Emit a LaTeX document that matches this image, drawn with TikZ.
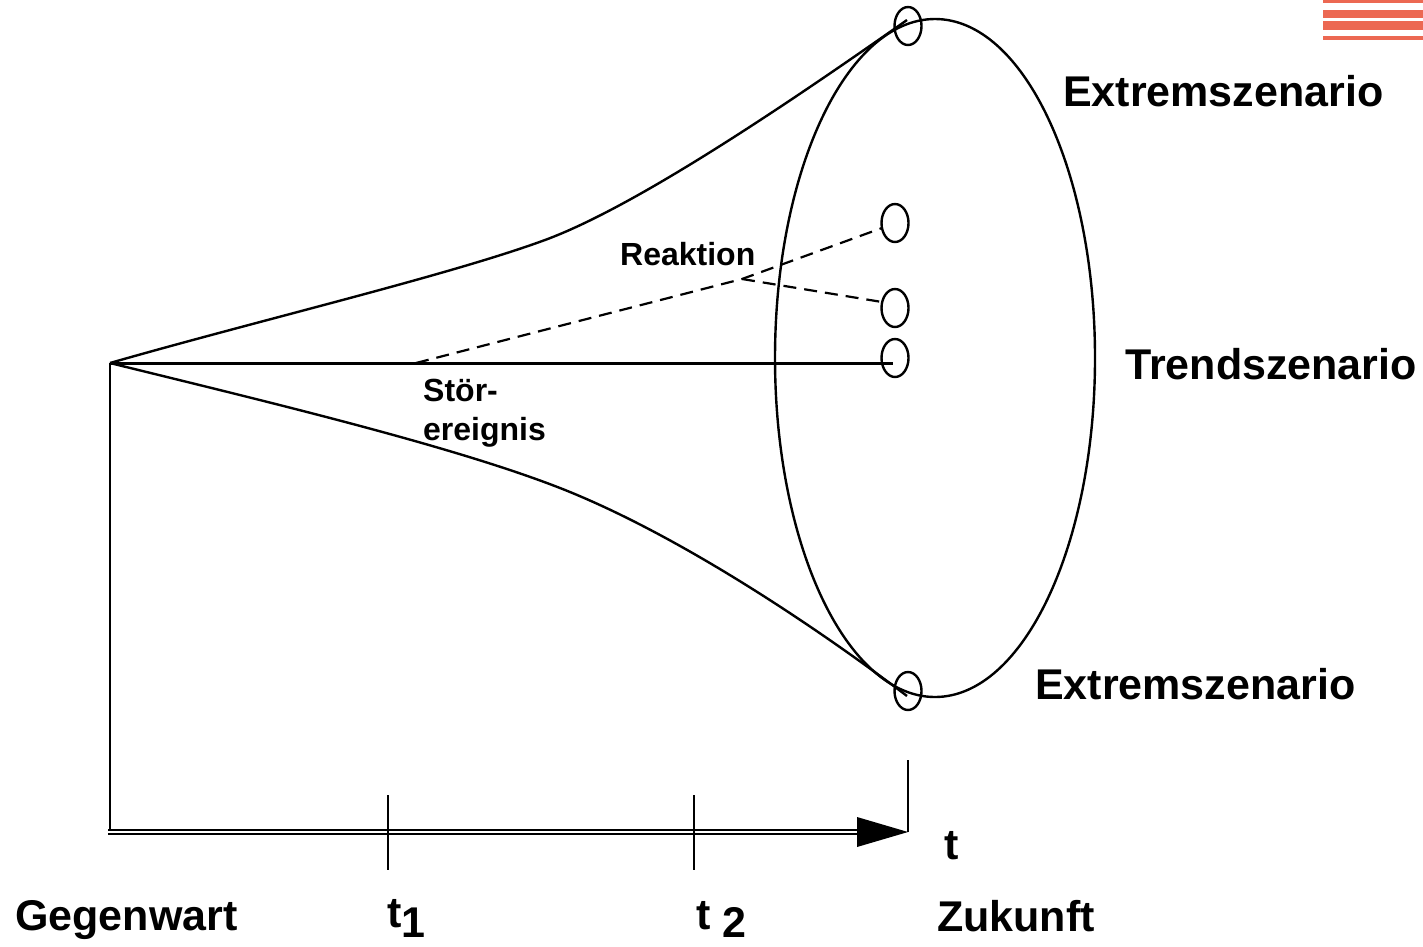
\documentclass[tikz,border=0pt]{standalone}
\usepackage{fontspec}
\setmainfont{Liberation Sans}
\usetikzlibrary{shapes.geometric}
\definecolor{stripe}{RGB}{236,104,82}
\tikzset{
  curve/.style={line width=2.4pt, line join=round},
  mark ell/.style={ellipse, draw, line width=2.4pt, minimum width=27pt, minimum height=38pt, inner sep=0pt},
  bigtxt/.style={font=\fontsize{43}{46}\selectfont\bfseries, inner sep=0pt, anchor=base west},
  smalltxt/.style={font=\fontsize{32}{38}\selectfont\bfseries, inner sep=0pt, anchor=base west, align=left},
  dashline/.style={line width=2.2pt, dash pattern=on 13pt off 8pt},
  tick/.style={line width=2.8pt}
}
\begin{document}
\begin{tikzpicture}[x=1pt,y=-1pt]
\useasboundingbox[fill=white] (0,0) rectangle (1423,946);
% red stripes
\fill[stripe] (1323,0) rectangle (1423,3);
\fill[stripe] (1323,10) rectangle (1423,18);
\fill[stripe] (1323,21) rectangle (1423,30);
\fill[stripe] (1323,36) rectangle (1423,40);

% key points
\coordinate (O) at (110,363);
\coordinate (D) at (416,363);
\coordinate (B) at (742,279);
\coordinate (T) at (908,832);
\coordinate (Tt) at (908,760);
\coordinate (A0) at (108,832);
\coordinate (Uend) at (907,20);
\coordinate (Lend) at (907,696);

% big ellipse
\draw[curve] (935,358) ellipse [x radius=160, y radius=339];

% small ellipses
\node[mark ell] (eTop) at (908,26) {};
\node[mark ell] (eR1) at (895,223) {};
\node[mark ell] (eR2) at (895,308) {};
\node[mark ell] (eTr) at (895,358) {};
\node[mark ell] (eBot) at (908,691) {};

% funnel curves
\draw[curve] (O) .. controls (260,320) and (450,275) .. (545,240)
                 .. controls (640,205) and (800,95) .. (Uend);
\draw[curve] (O) .. controls (260,400) and (450,445) .. (560,488)
                 .. controls (680,535) and (820,630) .. (Lend);

% trend line
\draw[line width=3pt] (O) -- (893,363);

% dashed disturbance
\draw[dashline] (D) -- (B) -- (882,228);
\draw[dashline] (B) -- (882,302);

% axes
\draw[line width=2.8pt] (O) -- (110,832);
\draw[line width=1.8pt, double, double distance=2.2pt] (A0) -- (860,832);
\fill (T) -- (857,817) -- (857,847) -- cycle;
\draw[line width=2.8pt] (Tt) -- (T);
\draw[tick] (388,795) -- (388,870);
\draw[tick] (694,795) -- (694,870);

% labels
\node[bigtxt] (lExt1) at (1063,106) {Extremszenario};
\node[bigtxt] (lTrend) at (1125,379) {Trendszenario};
\node[bigtxt] (lExt2) at (1035,699) {Extremszenario};
\node[smalltxt] (lReak) at (620,265) {Reaktion};
\node[smalltxt] (lStoer1) at (423,401) {Stör-};
\node[smalltxt] (lStoer2) at (423,440) {ereignis};
\node[bigtxt] (lGeg) at (15,930) {Gegenwart};
\node[bigtxt] (lT1) at (387,927) {t\raisebox{-10pt}{1}};
\node[bigtxt] (lT2) at (696,929) {t \raisebox{-8pt}{2}};
\node[bigtxt] (lT) at (944,859) {t};
\node[bigtxt] (lZuk) at (937,931) {Zukunft};
\end{tikzpicture}
\end{document}
